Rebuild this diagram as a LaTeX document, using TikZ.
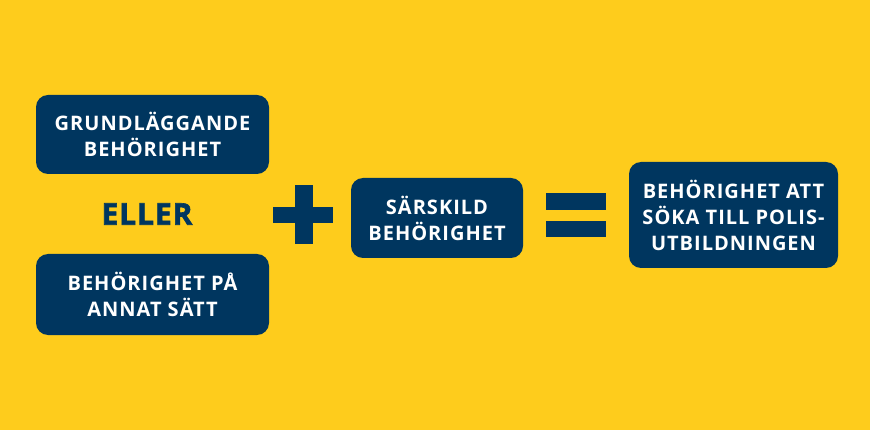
\documentclass[tikz,border=0pt]{standalone}
\usepackage{fontspec}
\setmainfont{Open Sans}[LetterSpace=5]
\newfontfamily\ellerfont{Open Sans}[LetterSpace=3,FakeBold=2]
\definecolor{bgyellow}{HTML}{FECC1C}
\definecolor{navy}{HTML}{00365F}
\tikzset{
  box/.style={fill=navy, rounded corners=12pt, text=white, align=center,
    font=\bfseries\fontsize{20}{26}\selectfont, inner sep=0pt},
  sym/.style={fill=navy, draw=none}
}
\begin{document}
\begin{tikzpicture}[x=1pt,y=-1pt]
\fill[bgyellow] (0,0) rectangle (870,430);
\useasboundingbox (0,0) rectangle (870,430);
\node[box, minimum width=233pt, minimum height=79pt] (grund) at (152.5,134.5) {GRUNDLÄGGANDE\\BEHÖRIGHET};
\node[text=navy, font=\ellerfont\bfseries\fontsize{30}{32}\selectfont, inner sep=0pt] (eller) at (147,214) {ELLER};
\node[box, minimum width=233pt, minimum height=81pt] (annat) at (152.5,294.5) {BEHÖRIGHET PÅ\\ANNAT SÄTT};
\fill[sym] (273,207) rectangle (333,223);
\fill[sym] (295,185) rectangle (313,244);
\node[box, minimum width=172pt, minimum height=80pt] (sarskild) at (437,218) {SÄRSKILD\\BEHÖRIGHET};
\fill[sym] (546,193) rectangle (606,210);
\fill[sym] (546,221) rectangle (606,237);
\node[box, minimum width=209pt, minimum height=106pt] (polis) at (733.5,215) {BEHÖRIGHET ATT\\SÖKA TILL POLIS-\\UTBILDNINGEN};
\end{tikzpicture}
\end{document}
